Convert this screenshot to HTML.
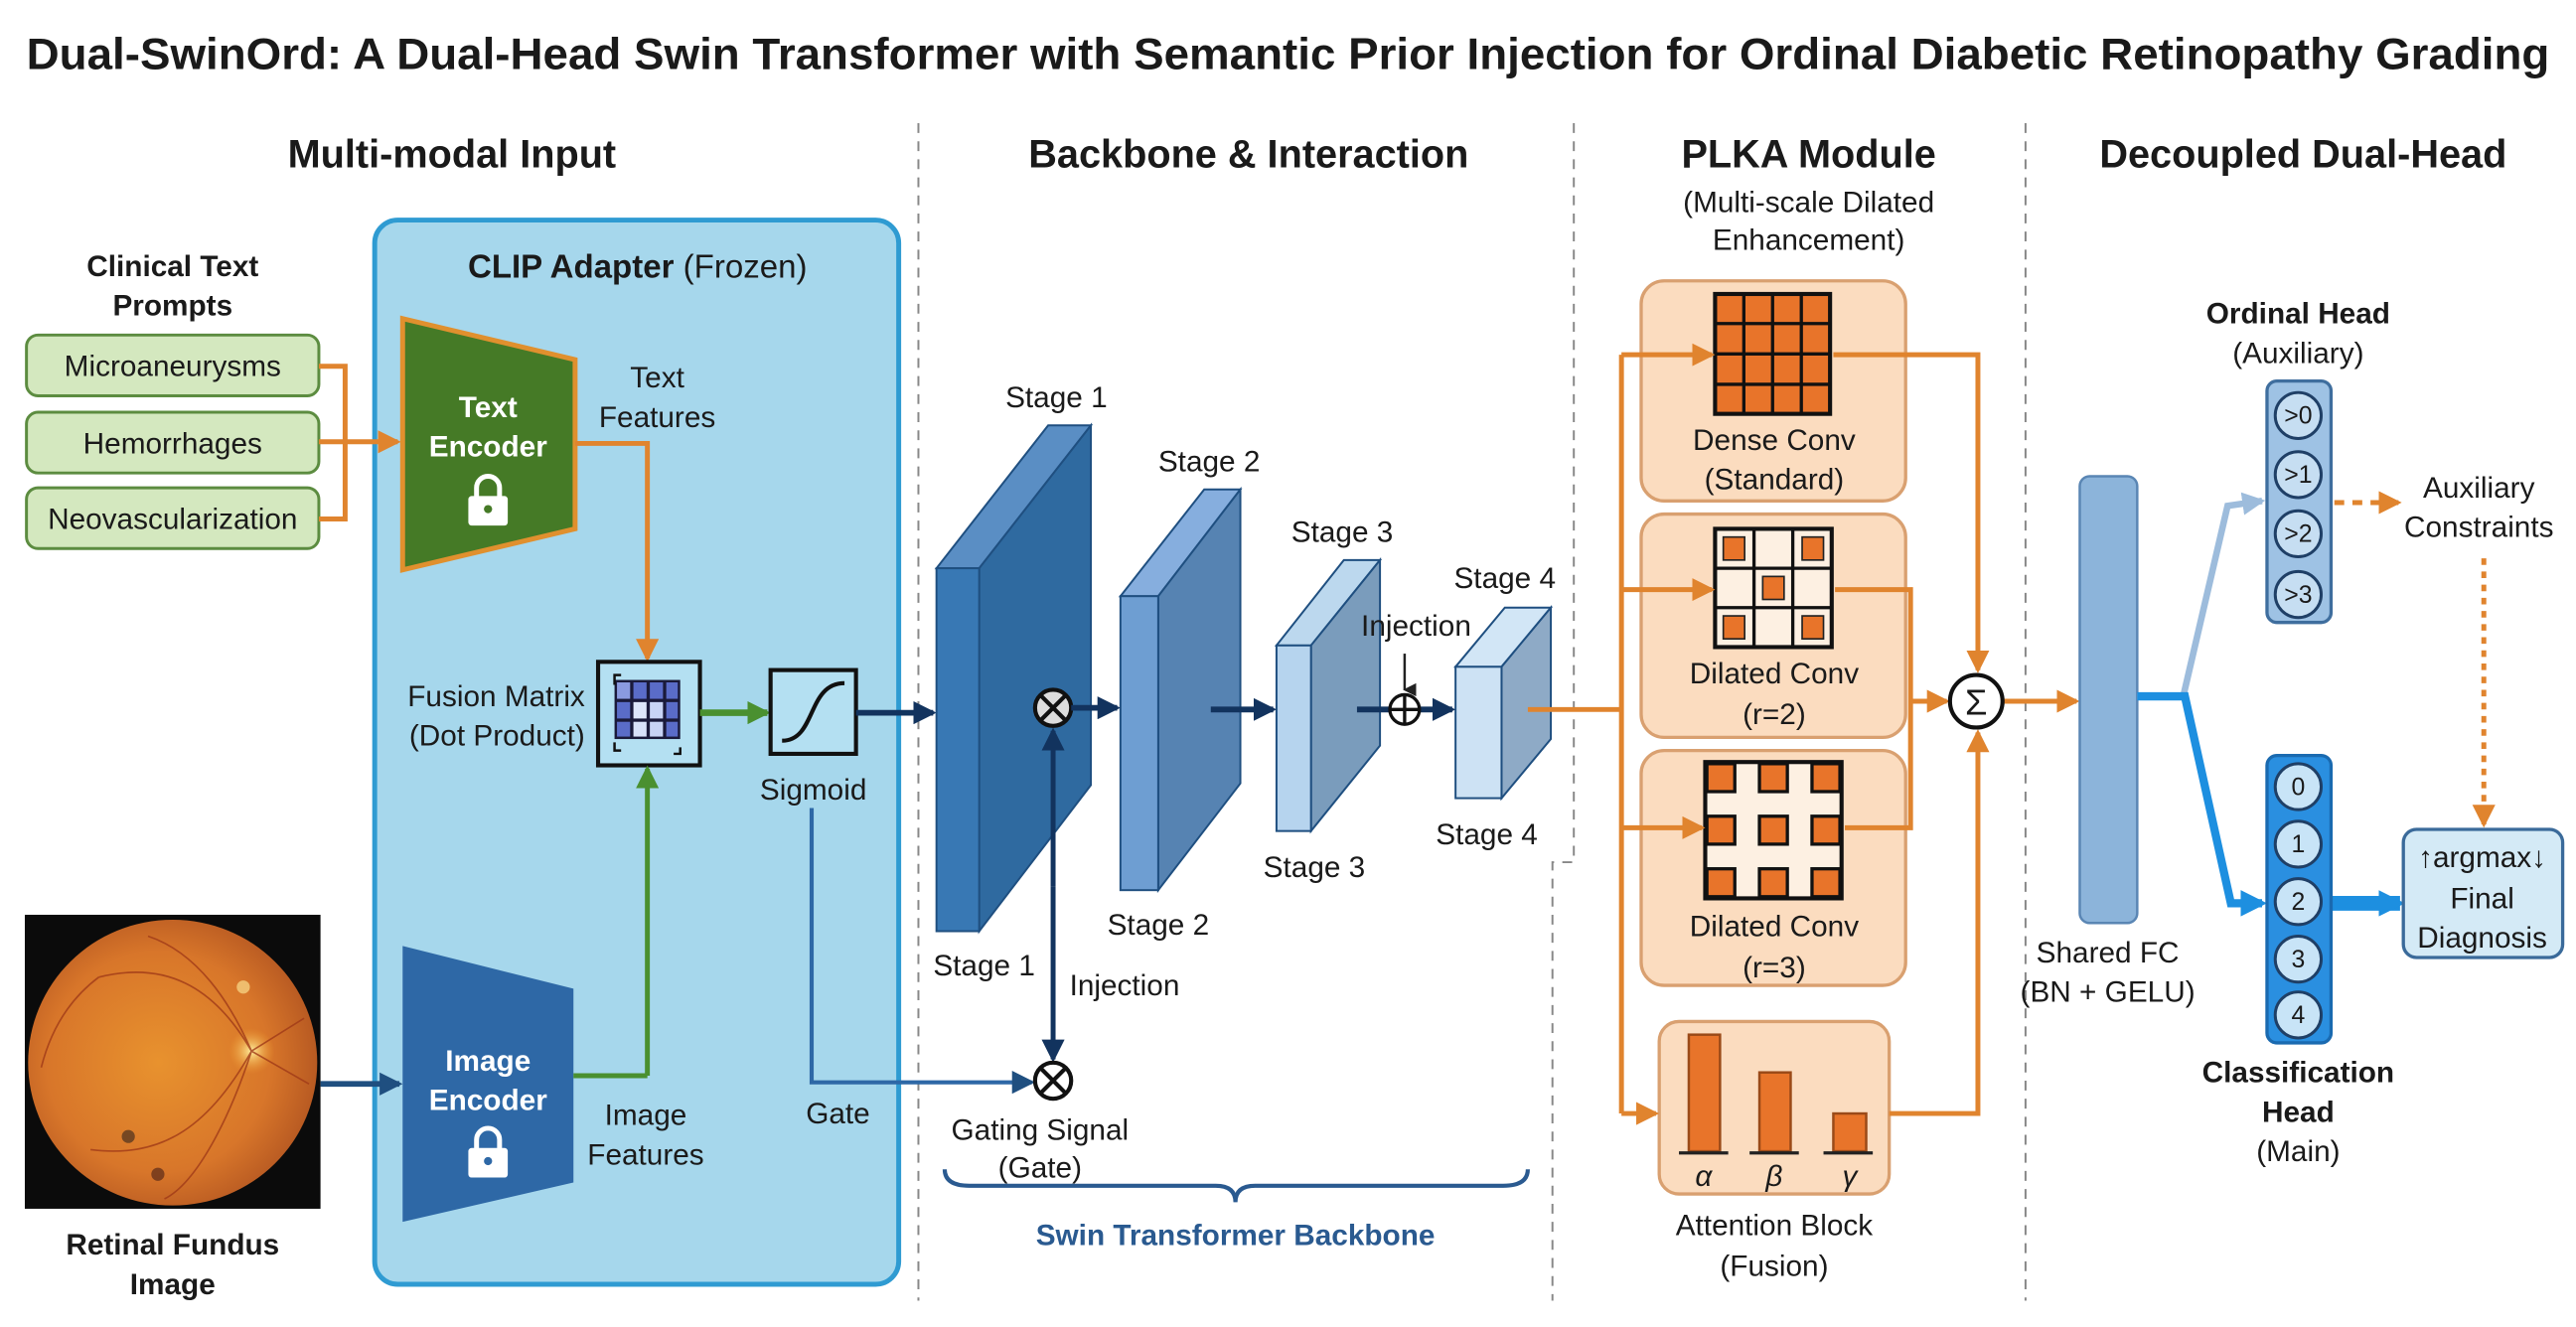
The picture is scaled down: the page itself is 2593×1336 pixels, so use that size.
<!DOCTYPE html>
<html><head><meta charset="utf-8"><style>
html,body{margin:0;padding:0;background:#fff;}
svg{display:block;}
text{font-family:"Liberation Sans",Arial,sans-serif;fill:#1a1a1a;}
.b{font-weight:bold;}
</style></head><body>
<svg width="2593" height="1336" viewBox="0 0 1568 808" xmlns="http://www.w3.org/2000/svg">
<defs>
<marker id="aoB" markerWidth="14" markerHeight="14" refX="12" refY="7" orient="auto" markerUnits="userSpaceOnUse"><path d="M0,0 L14,7 L0,14 Z" fill="#e0842e"/></marker>
<marker id="ag" markerWidth="14" markerHeight="14" refX="12" refY="7" orient="auto" markerUnits="userSpaceOnUse"><path d="M0,0 L14,7 L0,14 Z" fill="#4a9030"/></marker>
<marker id="ab" markerWidth="14" markerHeight="14" refX="12" refY="7" orient="auto" markerUnits="userSpaceOnUse"><path d="M0,0 L14,7 L0,14 Z" fill="#1f4f80"/></marker>
<marker id="ad" markerWidth="14" markerHeight="14" refX="12" refY="7" orient="auto" markerUnits="userSpaceOnUse"><path d="M0,0 L14,7 L0,14 Z" fill="#12335e"/></marker>
<marker id="alb" markerWidth="14" markerHeight="14" refX="12" refY="7" orient="auto" markerUnits="userSpaceOnUse"><path d="M0,0 L14,7 L0,14 Z" fill="#9dbcdc"/></marker>
<marker id="abb" markerWidth="16" markerHeight="16" refX="13" refY="8" orient="auto" markerUnits="userSpaceOnUse"><path d="M0,0 L16,8 L0,16 Z" fill="#1d8fe0"/></marker>
<marker id="ak" markerWidth="8" markerHeight="8" refX="4" refY="7" orient="auto" markerUnits="userSpaceOnUse"><path d="M0,0 L8,0 L4,8 Z" fill="#222"/></marker>
</defs>

<text x="784" y="42" text-anchor="middle" class="b" font-size="27" textLength="1536" lengthAdjust="spacingAndGlyphs">Dual-SwinOrd: A Dual-Head Swin Transformer with Semantic Prior Injection for Ordinal Diabetic Retinopathy Grading</text>

<text x="275" y="102" text-anchor="middle" class="b" font-size="24">Multi-modal Input</text>
<text x="760" y="102" text-anchor="middle" class="b" font-size="24">Backbone &amp; Interaction</text>
<text x="1101" y="102" text-anchor="middle" class="b" font-size="24">PLKA Module</text>
<text x="1402" y="102" text-anchor="middle" class="b" font-size="24">Decoupled Dual-Head</text>
<text x="1101" y="129" text-anchor="middle" font-size="18">(Multi-scale Dilated</text>
<text x="1101" y="152" text-anchor="middle" font-size="18">Enhancement)</text>

<g stroke="#888" stroke-width="1.2" stroke-dasharray="6,5" fill="none">
<line x1="559" y1="75" x2="559" y2="792"/>
<path d="M958,75 L958,525 L945,525 L945,792"/>
<line x1="1233" y1="75" x2="1233" y2="792"/>
</g>

<rect x="228" y="134" width="319" height="648" rx="14" fill="#a6d7ec" stroke="#2f9bd2" stroke-width="3"/>
<text x="388" y="169" text-anchor="middle" font-size="20"><tspan class="b">CLIP Adapter</tspan> (Frozen)</text>

<text x="105" y="168" text-anchor="middle" class="b" font-size="18">Clinical Text</text>
<text x="105" y="192" text-anchor="middle" class="b" font-size="18">Prompts</text>
<g fill="#d4e8bf" stroke="#5c8c40" stroke-width="1.8">
<rect x="16" y="204" width="178" height="37" rx="7"/>
<rect x="16" y="251" width="178" height="37" rx="7"/>
<rect x="16" y="297" width="178" height="37" rx="7"/>
</g>
<text x="105" y="229" text-anchor="middle" font-size="18">Microaneurysms</text>
<text x="105" y="276" text-anchor="middle" font-size="18">Hemorrhages</text>
<text x="105" y="322" text-anchor="middle" font-size="18">Neovascularization</text>
<g stroke="#e0842e" stroke-width="3" fill="none">
<path d="M194,223 L210,223 L210,316 L194,316"/>
<line x1="194" y1="269" x2="242" y2="269" marker-end="url(#aoB)"/>
</g>

<polygon points="245,194 350,219 350,322 245,347" fill="#457a26" stroke="#e0902e" stroke-width="3"/>
<text x="297" y="254" text-anchor="middle" class="b" font-size="18" style="fill:#fff">Text</text>
<text x="297" y="278" text-anchor="middle" class="b" font-size="18" style="fill:#fff">Encoder</text>
<g>
<path d="M290,303 v-6 a7,7 0 0 1 14,0 v6" fill="none" stroke="#fff" stroke-width="3"/>
<rect x="285" y="302" width="24" height="18" rx="2" fill="#fff"/>
<circle cx="297" cy="310" r="2.5" fill="#457a26"/>
</g>
<text x="400" y="236" text-anchor="middle" font-size="18">Text</text>
<text x="400" y="260" text-anchor="middle" font-size="18">Features</text>
<path d="M350,270 L394,270 L394,401" fill="none" stroke="#e0842e" stroke-width="3" marker-end="url(#aoB)"/>

<text x="356" y="430" text-anchor="end" font-size="18">Fusion Matrix</text>
<text x="356" y="454" text-anchor="end" font-size="18">(Dot Product)</text>
<rect x="364" y="403" width="62" height="63" fill="#b4e0f2" stroke="#111" stroke-width="2.5"/>
<rect x="374" y="414" width="40" height="36" fill="#1a1a3a"/>
<g fill="#5a6cc8">
<rect x="375.5" y="415.5" width="8" height="10" fill="#8a9ae0"/><rect x="385.5" y="415.5" width="8" height="10"/><rect x="395.5" y="415.5" width="8" height="10"/><rect x="405.5" y="415.5" width="7" height="10"/>
<rect x="375.5" y="427.5" width="8" height="10"/><rect x="385.5" y="427.5" width="8" height="10" fill="#dde6fa"/><rect x="395.5" y="427.5" width="8" height="10" fill="#c8d4f5"/><rect x="405.5" y="427.5" width="7" height="10"/>
<rect x="375.5" y="439.5" width="8" height="9"/><rect x="385.5" y="439.5" width="8" height="9" fill="#d8e2fa"/><rect x="395.5" y="439.5" width="8" height="9" fill="#c8d4f5"/><rect x="405.5" y="439.5" width="7" height="9"/>
</g>
<path d="M374,417 v-6 h4 M414,455 v4 h-4 M374,452 v5 h4" fill="none" stroke="#111" stroke-width="1.5"/>
<line x1="426" y1="434" x2="467" y2="434" stroke="#4a9030" stroke-width="4" marker-end="url(#ag)"/>
<path d="M394,655 L394,468" stroke="#4a9030" stroke-width="3" fill="none" marker-end="url(#ag)"/>

<rect x="469" y="408" width="52" height="51" fill="#b4e0f2" stroke="#111" stroke-width="2.5"/>
<path d="M476,451 C497,451 491,416 514,416" fill="none" stroke="#111" stroke-width="2.5"/>
<text x="495" y="487" text-anchor="middle" font-size="18">Sigmoid</text>
<line x1="521" y1="434" x2="568" y2="434" stroke="#12335e" stroke-width="3.5" marker-end="url(#ad)"/>

<polygon points="245,576 349,602 349,720 245,744" fill="#2e68a6"/>
<text x="297" y="652" text-anchor="middle" class="b" font-size="18" style="fill:#fff">Image</text>
<text x="297" y="676" text-anchor="middle" class="b" font-size="18" style="fill:#fff">Encoder</text>
<g>
<path d="M290,700 v-6 a7,7 0 0 1 14,0 v6" fill="none" stroke="#fff" stroke-width="3"/>
<rect x="285" y="699" width="24" height="18" rx="2" fill="#fff"/>
<circle cx="297" cy="707" r="2.5" fill="#2e68a6"/>
</g>
<path d="M349,655 L394,655" stroke="#4a9030" stroke-width="3" fill="none"/>
<text x="393" y="685" text-anchor="middle" font-size="18">Image</text>
<text x="393" y="709" text-anchor="middle" font-size="18">Features</text>

<rect x="15" y="557" width="180" height="179" fill="#0b0b0b"/>
<defs><radialGradient id="eye" cx="45%" cy="50%" r="55%"><stop offset="0" stop-color="#e8922e"/><stop offset="0.7" stop-color="#d8762a"/><stop offset="1" stop-color="#b85a22"/></radialGradient>
<radialGradient id="disc"><stop offset="0" stop-color="#fff0a0"/><stop offset="1" stop-color="#f0a030" stop-opacity="0"/></radialGradient></defs>
<ellipse cx="105" cy="647" rx="88" ry="87" fill="url(#eye)"/>
<circle cx="153" cy="640" r="14" fill="url(#disc)"/>
<g stroke="#a03a18" stroke-width="1" fill="none" opacity="0.8">
<path d="M153,640 C130,600 100,585 60,595"/><path d="M153,640 C140,610 120,580 90,570"/><path d="M153,640 C125,690 95,705 55,700"/><path d="M153,640 C140,680 120,720 100,730"/><path d="M153,640 L185,620"/><path d="M153,640 L188,660"/><path d="M60,595 C40,610 30,630 25,650"/>
</g>
<circle cx="78" cy="692" r="4" fill="#4a3020" opacity="0.7"/><circle cx="96" cy="715" r="4" fill="#5a2a18" opacity="0.7"/><circle cx="148" cy="601" r="4" fill="#f5d080" opacity="0.8"/>
<line x1="195" y1="660" x2="243" y2="660" stroke="#1f4f80" stroke-width="3.5" marker-end="url(#ab)"/>
<text x="105" y="764" text-anchor="middle" class="b" font-size="18">Retinal Fundus</text>
<text x="105" y="788" text-anchor="middle" class="b" font-size="18">Image</text>

<path d="M494,492 L494,659 L628,659" stroke="#2e68a6" stroke-width="2.5" fill="none" marker-end="url(#ab)"/>
<text x="510" y="684" text-anchor="middle" font-size="18">Gate</text>
<text x="633" y="694" text-anchor="middle" font-size="18">Gating Signal</text>
<text x="633" y="717" text-anchor="middle" font-size="18">(Gate)</text>

<g stroke="#1f4f80" stroke-width="1.2">
<polygon points="570,346 596,346 664,259 638,259" fill="#5a8ec4"/>
<polygon points="596,346 664,259 664,478 596,567" fill="#2f6aa0"/>
<rect x="570" y="346" width="26" height="221" fill="#3878b4"/>
<polygon points="682,363 705,363 755,298 733,298" fill="#86aede"/>
<polygon points="705,363 755,298 755,477 705,542" fill="#5683b2"/>
<rect x="682" y="363" width="23" height="179" fill="#6e9ed2"/>
<polygon points="777,393 798,393 840,341 818,341" fill="#bcd8ee"/>
<polygon points="798,393 840,341 840,454 798,506" fill="#7a9cbc"/>
<rect x="777" y="393" width="21" height="113" fill="#b6d4ee"/>
<polygon points="886,406 914,406 944,370 916,370" fill="#d2e6f6"/>
<polygon points="914,406 944,370 944,450 914,486" fill="#8eaac6"/>
<rect x="886" y="406" width="28" height="80" fill="#cde2f4"/>
</g>
<text x="643" y="248" text-anchor="middle" font-size="18">Stage 1</text>
<text x="736" y="287" text-anchor="middle" font-size="18">Stage 2</text>
<text x="817" y="330" text-anchor="middle" font-size="18">Stage 3</text>
<text x="916" y="358" text-anchor="middle" font-size="18">Stage 4</text>
<text x="599" y="594" text-anchor="middle" font-size="18">Stage 1</text>
<text x="705" y="569" text-anchor="middle" font-size="18">Stage 2</text>
<text x="800" y="534" text-anchor="middle" font-size="18">Stage 3</text>
<text x="905" y="514" text-anchor="middle" font-size="18">Stage 4</text>

<line x1="641" y1="540" x2="641" y2="445" stroke="#12335e" stroke-width="3" marker-end="url(#ad)"/>
<line x1="641" y1="540" x2="641" y2="645" stroke="#12335e" stroke-width="3" marker-end="url(#ad)"/>
<circle cx="641" cy="431" r="11" fill="#ddd" stroke="#111" stroke-width="2.5"/>
<path d="M633,423 L649,439 M649,423 L633,439" stroke="#111" stroke-width="2.5"/>
<circle cx="641" cy="658" r="11" fill="#a6d7ec" fill-opacity="0" stroke="#111" stroke-width="2.5"/>
<path d="M633,650 L649,666 M649,650 L633,666" stroke="#111" stroke-width="2.5"/>
<line x1="652" y1="431" x2="680" y2="431" stroke="#12335e" stroke-width="3.5" marker-end="url(#ad)"/>
<line x1="737" y1="432" x2="775" y2="432" stroke="#12335e" stroke-width="3.5" marker-end="url(#ad)"/>
<line x1="826" y1="432" x2="884" y2="432" stroke="#12335e" stroke-width="3.5" marker-end="url(#ad)"/>
<circle cx="855" cy="432" r="9" fill="#fff" stroke="#111" stroke-width="2"/>
<path d="M846,432 h18 M855,423 v18" stroke="#111" stroke-width="2"/>
<text x="862" y="387" text-anchor="middle" font-size="18">Injection</text>
<line x1="855" y1="398" x2="855" y2="420" stroke="#222" stroke-width="1.5" marker-end="url(#ak)"/>
<text x="651" y="606" font-size="18">Injection</text>

<path d="M575,712 Q575,722 590,722 L740,722 Q752,722 752,732 Q752,722 764,722 L915,722 Q930,722 930,712" fill="none" stroke="#2a5a90" stroke-width="2.5"/>
<text x="752" y="758" text-anchor="middle" class="b" font-size="18" style="fill:#2a5a90">Swin Transformer Backbone</text>

<g fill="#fbdcbf" stroke="#d9a070" stroke-width="2">
<rect x="999" y="171" width="161" height="134" rx="14"/>
<rect x="999" y="313" width="161" height="136" rx="14"/>
<rect x="999" y="457" width="161" height="143" rx="14"/>
<rect x="1010" y="622" width="140" height="105" rx="12"/>
</g>
<rect x="1044" y="179" width="70" height="73" fill="#e8742a" stroke="#111" stroke-width="2.5"/>
<g stroke="#111" stroke-width="2"><line x1="1061.5" y1="179" x2="1061.5" y2="252"/><line x1="1079" y1="179" x2="1079" y2="252"/><line x1="1096.5" y1="179" x2="1096.5" y2="252"/>
<line x1="1044" y1="197" x2="1114" y2="197"/><line x1="1044" y1="215.5" x2="1114" y2="215.5"/><line x1="1044" y1="234" x2="1114" y2="234"/></g>
<text x="1080" y="274" text-anchor="middle" font-size="18">Dense Conv</text>
<text x="1080" y="298" text-anchor="middle" font-size="18">(Standard)</text>
<rect x="1044" y="322" width="71" height="72" fill="#fdf0e2" stroke="#111" stroke-width="2.5"/>
<g stroke="#111" stroke-width="2"><line x1="1067.7" y1="322" x2="1067.7" y2="394"/><line x1="1091.3" y1="322" x2="1091.3" y2="394"/><line x1="1044" y1="346" x2="1115" y2="346"/><line x1="1044" y1="370" x2="1115" y2="370"/></g>
<g fill="#e8742a" stroke="#222" stroke-width="1"><rect x="1049" y="327" width="13" height="14"/><rect x="1097" y="327" width="13" height="14"/><rect x="1073" y="351" width="13" height="14"/><rect x="1049" y="375" width="13" height="14"/><rect x="1097" y="375" width="13" height="14"/></g>
<text x="1080" y="416" text-anchor="middle" font-size="18">Dilated Conv</text>
<text x="1080" y="441" text-anchor="middle" font-size="18">(r=2)</text>
<rect x="1038" y="464" width="83" height="83" fill="#fdf0e2" stroke="#111" stroke-width="2.5"/>
<g fill="#e8742a" stroke="#111" stroke-width="2"><rect x="1039" y="465" width="17" height="17"/><rect x="1071" y="465" width="17" height="17"/><rect x="1103" y="465" width="17" height="17"/>
<rect x="1039" y="497" width="17" height="17"/><rect x="1071" y="497" width="17" height="17"/><rect x="1103" y="497" width="17" height="17"/>
<rect x="1039" y="529" width="17" height="17"/><rect x="1071" y="529" width="17" height="17"/><rect x="1103" y="529" width="17" height="17"/></g>
<text x="1080" y="570" text-anchor="middle" font-size="18">Dilated Conv</text>
<text x="1080" y="595" text-anchor="middle" font-size="18">(r=3)</text>
<g fill="#e8742a" stroke="#9a4a18" stroke-width="1.5"><rect x="1028" y="630" width="19" height="71"/><rect x="1071" y="653" width="19" height="48"/><rect x="1116" y="678" width="20" height="23"/></g>
<g stroke="#222" stroke-width="2"><line x1="1022" y1="702" x2="1052" y2="702"/><line x1="1065" y1="702" x2="1095" y2="702"/><line x1="1110" y1="702" x2="1140" y2="702"/></g>
<text x="1037" y="722" text-anchor="middle" font-size="18" font-style="italic">α</text>
<text x="1080" y="722" text-anchor="middle" font-size="18" font-style="italic">β</text>
<text x="1126" y="722" text-anchor="middle" font-size="18" font-style="italic">γ</text>
<text x="1080" y="752" text-anchor="middle" font-size="18">Attention Block</text>
<text x="1080" y="777" text-anchor="middle" font-size="18">(Fusion)</text>

<g stroke="#e0842e" stroke-width="3" fill="none">
<path d="M930,432 L987,432"/>
<path d="M987,216 L987,678"/>
<line x1="987" y1="216" x2="1042" y2="216" marker-end="url(#aoB)"/>
<line x1="987" y1="359" x2="1042" y2="359" marker-end="url(#aoB)"/>
<line x1="987" y1="504" x2="1036" y2="504" marker-end="url(#aoB)"/>
<line x1="987" y1="678" x2="1008" y2="678" marker-end="url(#aoB)"/>
<path d="M1116,216 L1204,216 L1204,408" marker-end="url(#aoB)"/>
<path d="M1117,359 L1163,359 L1163,504 L1123,504"/>
<line x1="1163" y1="427" x2="1185" y2="427" marker-end="url(#aoB)"/>
<path d="M1150,678 L1204,678 L1204,446" marker-end="url(#aoB)"/>
<line x1="1220" y1="427" x2="1264" y2="427" marker-end="url(#aoB)"/>
</g>
<circle cx="1203" cy="427" r="16" fill="#fff" stroke="#111" stroke-width="2.5"/>
<text x="1203" y="435" text-anchor="middle" font-size="22">Σ</text>

<rect x="1266" y="290" width="35" height="272" rx="6" fill="#8cb4da" stroke="#5a86b4" stroke-width="1.5"/>
<text x="1283" y="586" text-anchor="middle" font-size="18">Shared FC</text>
<text x="1283" y="610" text-anchor="middle" font-size="18">(BN + GELU)</text>

<path d="M1301,424 L1329,424 L1356,308 L1377,305" stroke="#9dbcdc" stroke-width="4" fill="none" marker-end="url(#alb)"/>
<path d="M1301,424 L1330,424 L1358,550 L1377,550" stroke="#1d8fe0" stroke-width="5" fill="none" marker-end="url(#abb)"/>
<line x1="1419" y1="550" x2="1461" y2="550" stroke="#1d8fe0" stroke-width="9" marker-end="url(#abb)"/>

<text x="1399" y="197" text-anchor="middle" class="b" font-size="18">Ordinal Head</text>
<text x="1399" y="221" text-anchor="middle" font-size="18">(Auxiliary)</text>
<rect x="1380" y="232" width="39" height="147" rx="6" fill="#9ec2e4" stroke="#3f6e9e" stroke-width="2"/>
<g fill="#c6def2" stroke="#1f3f66" stroke-width="1.8">
<circle cx="1399" cy="253" r="14"/><circle cx="1399" cy="289" r="14"/><circle cx="1399" cy="325" r="14"/><circle cx="1399" cy="362" r="14"/></g>
<g font-size="15" text-anchor="middle"><text x="1399" y="258">&gt;0</text><text x="1399" y="294">&gt;1</text><text x="1399" y="330">&gt;2</text><text x="1399" y="367">&gt;3</text></g>

<rect x="1380" y="460" width="39" height="175" rx="6" fill="#2a8fe0" stroke="#1a6ab0" stroke-width="2"/>
<g fill="#c8e4f7" stroke="#1f3f66" stroke-width="1.8">
<circle cx="1399" cy="479" r="14"/><circle cx="1399" cy="514" r="14"/><circle cx="1399" cy="549" r="14"/><circle cx="1399" cy="584" r="14"/><circle cx="1399" cy="618" r="14"/></g>
<g font-size="15" text-anchor="middle"><text x="1399" y="484">0</text><text x="1399" y="519">1</text><text x="1399" y="554">2</text><text x="1399" y="589">3</text><text x="1399" y="623">4</text></g>
<text x="1399" y="659" text-anchor="middle" class="b" font-size="18">Classification</text>
<text x="1399" y="683" text-anchor="middle" class="b" font-size="18">Head</text>
<text x="1399" y="707" text-anchor="middle" font-size="18">(Main)</text>

<text x="1509" y="303" text-anchor="middle" font-size="18">Auxiliary</text>
<text x="1509" y="327" text-anchor="middle" font-size="18">Constraints</text>
<line x1="1421" y1="306" x2="1460" y2="306" stroke="#e0842e" stroke-width="3" stroke-dasharray="6,5" marker-end="url(#aoB)"/>
<line x1="1512" y1="340" x2="1512" y2="502" stroke="#e0842e" stroke-width="3" stroke-dasharray="4,4" marker-end="url(#aoB)"/>
<rect x="1463" y="505" width="97" height="78" rx="8" fill="#d4eaf6" stroke="#3a6a9a" stroke-width="2"/>
<text x="1511" y="528" text-anchor="middle" font-size="18">↑argmax↓</text>
<text x="1511" y="553" text-anchor="middle" font-size="18">Final</text>
<text x="1511" y="577" text-anchor="middle" font-size="18">Diagnosis</text>
</svg>
</body></html>
